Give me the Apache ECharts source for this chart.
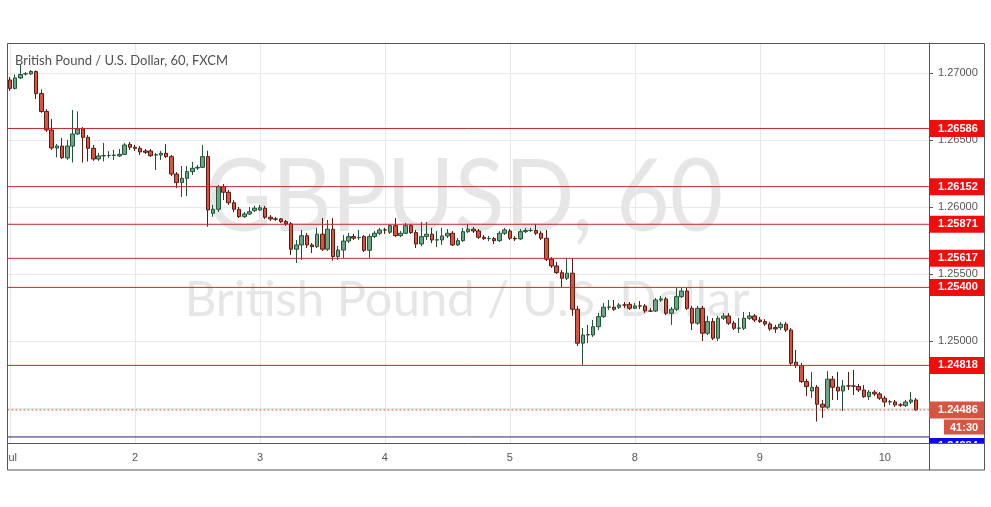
<!DOCTYPE html>
<html><head><meta charset="utf-8">
<script src="https://cdn.jsdelivr.net/npm/echarts@6/dist/echarts.min.js"></script>
<style>html,body{margin:0;padding:0;background:#fff}#c{width:991px;height:507px}</style>
</head><body><div id="c"></div>
<script>
// ---- data (GBPUSD, 60 min candles) ----
const dayLabels = ['Jul','2','3','4','5','8','9','10'];
const opens = [
1.26948,1.26885,1.26963,1.26993,1.26993,1.27011,1.26847,1.26713,1.26575,1.26440,
1.26455,1.26366,1.26455,1.26545,1.26582,1.26520,1.26438,1.26358,1.26381,1.26384,
1.26384,1.26381,1.26393,1.26468,1.26446,1.26438,1.26418,1.26418,1.26388,1.26388,
1.26401,1.26376,1.26246,1.26182,1.26214,1.26264,1.26291,1.26296,1.26376,1.25953,
1.25983,1.26152,1.26110,1.26032,1.25983,1.25928,1.25948,1.25973,1.25978,1.25991,
1.25924,1.25911,1.25911,1.25891,1.25874,1.25685,1.25717,1.25786,1.25717,1.25704,
1.25797,1.25685,1.25834,1.25630,1.25679,1.25746,1.25779,1.25771,1.25779,1.25677,
1.25779,1.25804,1.25829,1.25812,1.25861,1.25786,1.25804,1.25861,1.25809,1.25724,
1.25779,1.25797,1.25754,1.25754,1.25784,1.25804,1.25717,1.25749,1.25816,1.25834,
1.25821,1.25774,1.25764,1.25764,1.25749,1.25804,1.25821,1.25767,1.25762,1.25816,
1.25824,1.25824,1.25804,1.25767,1.25610,1.25560,1.25510,1.25468,1.25506,1.25237,
1.24984,1.25045,1.25045,1.25107,1.25182,1.25252,1.25252,1.25252,1.25269,1.25274,
1.25244,1.25262,1.25262,1.25224,1.25224,1.25306,1.25314,1.25207,1.25237,1.25331,
1.25373,1.25244,1.25133,1.25244,1.25058,1.25145,1.25021,1.25170,1.25187,1.25133,
1.25095,1.25095,1.25170,1.25187,1.25157,1.25145,1.25127,1.25100,1.25100,1.25125,
1.25082,1.24842,1.24816,1.24697,1.24627,1.24655,1.24528,1.24506,1.24715,1.24655,
1.24627,1.24665,1.24665,1.24660,1.24634,1.24585,1.24618,1.24605,1.24573,1.24545,
1.24545,1.24523,1.24519,1.24545,1.24560
];
const closes = [
1.26885,1.26963,1.26989,1.26995,1.27011,1.26847,1.26713,1.26575,1.26440,1.26455,
1.26368,1.26455,1.26545,1.26582,1.26520,1.26438,1.26358,1.26381,1.26384,1.26385,
1.26388,1.26393,1.26463,1.26446,1.26438,1.26411,1.26408,1.26383,1.26390,1.26401,
1.26376,1.26246,1.26182,1.26214,1.26264,1.26289,1.26296,1.26376,1.25978,1.25983,
1.26152,1.26110,1.26032,1.25983,1.25928,1.25948,1.25965,1.25991,1.25995,1.25924,
1.25911,1.25909,1.25891,1.25874,1.25685,1.25717,1.25786,1.25717,1.25704,1.25797,
1.25685,1.25834,1.25630,1.25679,1.25746,1.25779,1.25767,1.25773,1.25677,1.25780,
1.25804,1.25829,1.25828,1.25861,1.25786,1.25804,1.25861,1.25809,1.25724,1.25779,
1.25797,1.25754,1.25755,1.25784,1.25804,1.25717,1.25749,1.25816,1.25834,1.25821,
1.25774,1.25764,1.25765,1.25749,1.25804,1.25829,1.25767,1.25762,1.25816,1.25824,
1.25825,1.25804,1.25767,1.25610,1.25560,1.25510,1.25468,1.25506,1.25237,1.24984,
1.25045,1.25048,1.25107,1.25182,1.25252,1.25254,1.25237,1.25269,1.25268,1.25244,
1.25262,1.25261,1.25224,1.25223,1.25306,1.25314,1.25207,1.25237,1.25331,1.25373,
1.25244,1.25133,1.25244,1.25058,1.25145,1.25021,1.25170,1.25187,1.25133,1.25095,
1.25097,1.25170,1.25187,1.25157,1.25145,1.25127,1.25090,1.25090,1.25125,1.25082,
1.24834,1.24816,1.24697,1.24660,1.24655,1.24528,1.24506,1.24715,1.24655,1.24627,
1.24665,1.24664,1.24663,1.24634,1.24585,1.24618,1.24605,1.24573,1.24545,1.24547,
1.24523,1.24522,1.24545,1.24560,1.24486
];
const lows = [
1.26866,1.26877,1.26955,1.26981,1.26985,1.26806,1.26702,1.26560,1.26426,1.26370,
1.26358,1.26351,1.26332,1.26537,1.26332,1.26340,1.26344,1.26344,1.26340,1.26366,
1.26351,1.26373,1.26388,1.26426,1.26418,1.26388,1.26396,1.26373,1.26276,1.26351,
1.26366,1.26232,1.26142,1.26075,1.26082,1.26239,1.26276,1.26291,1.25853,1.25926,
1.25963,1.26052,1.26015,1.25963,1.25918,1.25918,1.25940,1.25963,1.25970,1.25911,
1.25896,1.25896,1.25881,1.25859,1.25642,1.25582,1.25605,1.25694,1.25657,1.25694,
1.25672,1.25672,1.25600,1.25605,1.25620,1.25731,1.25754,1.25754,1.25665,1.25620,
1.25769,1.25791,1.25799,1.25799,1.25776,1.25776,1.25799,1.25799,1.25694,1.25709,
1.25754,1.25731,1.25702,1.25717,1.25769,1.25709,1.25709,1.25739,1.25806,1.25806,
1.25761,1.25754,1.25746,1.25724,1.25739,1.25791,1.25754,1.25746,1.25754,1.25806,
1.25814,1.25791,1.25754,1.25597,1.25545,1.25500,1.25403,1.25455,1.25187,1.24963,
1.24822,1.24985,1.25030,1.25082,1.25172,1.25231,1.25224,1.25239,1.25246,1.25231,
1.25239,1.25239,1.25209,1.25216,1.25216,1.25291,1.25194,1.25120,1.25224,1.25321,
1.25231,1.25082,1.25120,1.25000,1.25045,1.25007,1.25000,1.25157,1.25120,1.25082,
1.25060,1.25082,1.25157,1.25142,1.25135,1.25112,1.25075,1.25060,1.25082,1.25067,
1.24821,1.24799,1.24687,1.24590,1.24575,1.24399,1.24426,1.24493,1.24560,1.24560,
1.24478,1.24634,1.24597,1.24619,1.24575,1.24560,1.24590,1.24560,1.24508,1.24523,
1.24508,1.24508,1.24508,1.24530,1.24478
];
const highs = [
1.26970,1.26989,1.27060,1.27007,1.27022,1.27019,1.26877,1.26731,1.26657,1.26470,
1.26515,1.26500,1.26724,1.26713,1.26597,1.26537,1.26463,1.26403,1.26478,1.26418,
1.26426,1.26433,1.26478,1.26485,1.26463,1.26455,1.26433,1.26433,1.26403,1.26418,
1.26470,1.26388,1.26261,1.26306,1.26306,1.26336,1.26314,1.26463,1.26420,1.26015,
1.26164,1.26172,1.26127,1.26052,1.26000,1.25963,1.26000,1.26008,1.26015,1.26008,
1.25940,1.25926,1.25918,1.25903,1.25888,1.25754,1.25829,1.25806,1.25731,1.25844,
1.25918,1.25903,1.25918,1.25709,1.25791,1.25806,1.25799,1.25829,1.25791,1.25799,
1.25821,1.25844,1.25844,1.25874,1.25918,1.25821,1.25881,1.25874,1.25829,1.25888,
1.25888,1.25844,1.25821,1.25844,1.25836,1.25821,1.25769,1.25844,1.25874,1.25851,
1.25836,1.25791,1.25784,1.25776,1.25821,1.25844,1.25836,1.25784,1.25836,1.25844,
1.25844,1.25874,1.25821,1.25829,1.25627,1.25590,1.25530,1.25617,1.25617,1.25262,
1.25097,1.25120,1.25157,1.25209,1.25284,1.25306,1.25306,1.25284,1.25291,1.25291,
1.25284,1.25299,1.25276,1.25246,1.25321,1.25336,1.25329,1.25254,1.25396,1.25396,
1.25396,1.25262,1.25262,1.25262,1.25187,1.25172,1.25187,1.25209,1.25209,1.25150,
1.25172,1.25216,1.25216,1.25202,1.25179,1.25164,1.25142,1.25120,1.25142,1.25142,
1.25097,1.24933,1.24836,1.24717,1.24769,1.24672,1.24560,1.24776,1.24739,1.24769,
1.24709,1.24769,1.24784,1.24680,1.24672,1.24634,1.24634,1.24619,1.24590,1.24560,
1.24560,1.24537,1.24560,1.24619,1.24575
];
const levels = [1.26586, 1.26152, 1.25871, 1.25617, 1.25400, 1.24818];
const lastPrice = 1.24486;
const countdown = '41:30';
const blueLevel = 1.24284;
const titleText = 'British Pound / U.S. Dollar, 60, FXCM';
const watermark = ['GBPUSD, 60', 'British Pound / U.S. Dollar'];

// ---- build ----
const slots = 177;
const categories = [];
dayLabels.forEach(d => { for (let h = 0; h < 24; h++) categories.push(d + ' ' + String(h).padStart(2, '0') + ':00'); });
categories.length = slots;
const ohlc = opens.map((o, i) => [o, closes[i], lows[i], highs[i]]);

const FONT = 'Liberation Sans';
const dayStart = (i) => i % 24 === 0;
const tokenStyle = (bg, pad) => ({ color: '#fff', fontWeight: 'bold', fontSize: 11, fontFamily: FONT, lineHeight: 12, backgroundColor: bg, padding: pad });

// a horizontal price line across the whole plot (on a hidden 0..1 x axis), with its axis tag as endLabel
const priceLine = (value, lineStyle, endLabel, z) => ({
  type: 'line', xAxisIndex: 1, yAxisIndex: 0, silent: true, z: z,
  symbol: 'none', showSymbol: false, clip: false, animation: false,
  lineStyle: lineStyle,
  emphasis: { disabled: true },
  endLabel: Object.assign({ show: true, distance: 0, align: 'left', verticalAlign: 'middle' }, endLabel),
  data: [[0, value], [1, value]]
});

const series = [{
  type: 'candlestick', data: ohlc, barWidth: 4, z: 2,
  itemStyle: { color: '#6ba583', color0: '#d75442', borderColor: '#225437', borderColor0: '#5b1a13', borderWidth: 1 }
}];
levels.forEach(v => series.push(priceLine(v, { color: '#c62a2a', width: 1, type: 'solid' },
  Object.assign({ formatter: () => v.toFixed(5) }, tokenStyle('#f20d0d', [3, 7, 2, 9])), 3)));
series.push(priceLine(lastPrice, { color: '#d75442', width: 1, type: [2, 2] },
  Object.assign({ formatter: () => lastPrice.toFixed(5) }, tokenStyle('#d75442', [3, 7, 2, 9])), 4));
series.push(priceLine(lastPrice, { color: 'rgba(0,0,0,0)', width: 0 },
  { formatter: '{t|' + countdown + '}', padding: [34, 0, 0, 15], rich: { t: tokenStyle('#d75442', [3, 6, 1, 6]) } }, 4));
series.push(priceLine(blueLevel, { color: '#24246e', width: 1, type: 'solid' },
  { formatter: '{b|' + blueLevel.toFixed(5) + '}', padding: [18, 0, 0, 0], rich: { b: tokenStyle('#0a0af0', [3, 7, 2, 9]) } }, 3));

const chart = echarts.init(document.getElementById('c'));
chart.setOption({
  animation: false,
  backgroundColor: '#fff',
  title: { text: titleText, left: 15, top: 54, padding: 0, textStyle: { fontSize: 13, fontWeight: 'normal', color: '#505050', fontFamily: 'Lato' } },
  grid: { left: 7, right: 62, top: 43, bottom: 64 },
  xAxis: [{
    type: 'category', data: categories, boundaryGap: true,
    axisLine: { onZero: false, lineStyle: { color: '#555' } },
    axisTick: { alignWithLabel: true, interval: dayStart, length: 4, lineStyle: { color: '#555' } },
    axisLabel: { interval: dayStart, formatter: v => v.split(' ')[0], color: '#555', fontSize: 11, fontFamily: FONT, margin: 9 },
    splitLine: { show: true, alignWithLabel: true, interval: dayStart, lineStyle: { color: '#e8e8e8' } }
  }, {
    type: 'value', min: 0, max: 1, show: false
  }],
  yAxis: {
    type: 'value', position: 'right', min: 1.242388, max: 1.272239, splitNumber: 6,
    axisLine: { show: true, onZero: false, lineStyle: { color: '#555' } },
    axisTick: { show: true, length: 4, lineStyle: { color: '#555' } },
    axisLabel: { formatter: v => v.toFixed(5), color: '#555', fontSize: 11, fontFamily: FONT, margin: 9, showMinLabel: false, showMaxLabel: false },
    splitLine: { lineStyle: { color: '#e8e8e8' } }
  },
  series: series,
  graphic: { elements: [
    { type: 'text', x: 464, y: 199, z: -10, silent: true, scaleX: 0.92,
      style: { text: watermark[0], font: '100px Lato', fill: '#e6e6e6', align: 'center', verticalAlign: 'middle' } },
    { type: 'text', x: 467, y: 300, z: -10, silent: true,
      style: { text: watermark[1], font: '49px Lato', fill: '#e6e6e6', align: 'center', verticalAlign: 'middle' } },
    { type: 'rect', z: 100, shape: { x: 0, y: 444, width: 7, height: 25 }, style: { fill: '#fff' } },
    { type: 'rect', z: 100, shape: { x: 930, y: 444, width: 54, height: 25.5 }, style: { fill: '#fff' } },
    { type: 'rect', z: 101, shape: { x: 7.5, y: 43.5, width: 977, height: 426.5 }, style: { fill: 'none', stroke: '#555', lineWidth: 1 } },
    { type: 'line', z: 101, shape: { x1: 929.5, y1: 443, x2: 929.5, y2: 470 }, style: { stroke: '#555', lineWidth: 1 } },
    { type: 'line', z: 101, shape: { x1: 929, y1: 443.5, x2: 984, y2: 443.5 }, style: { stroke: '#555', lineWidth: 1 } }
  ] }
});
</script></body></html>
